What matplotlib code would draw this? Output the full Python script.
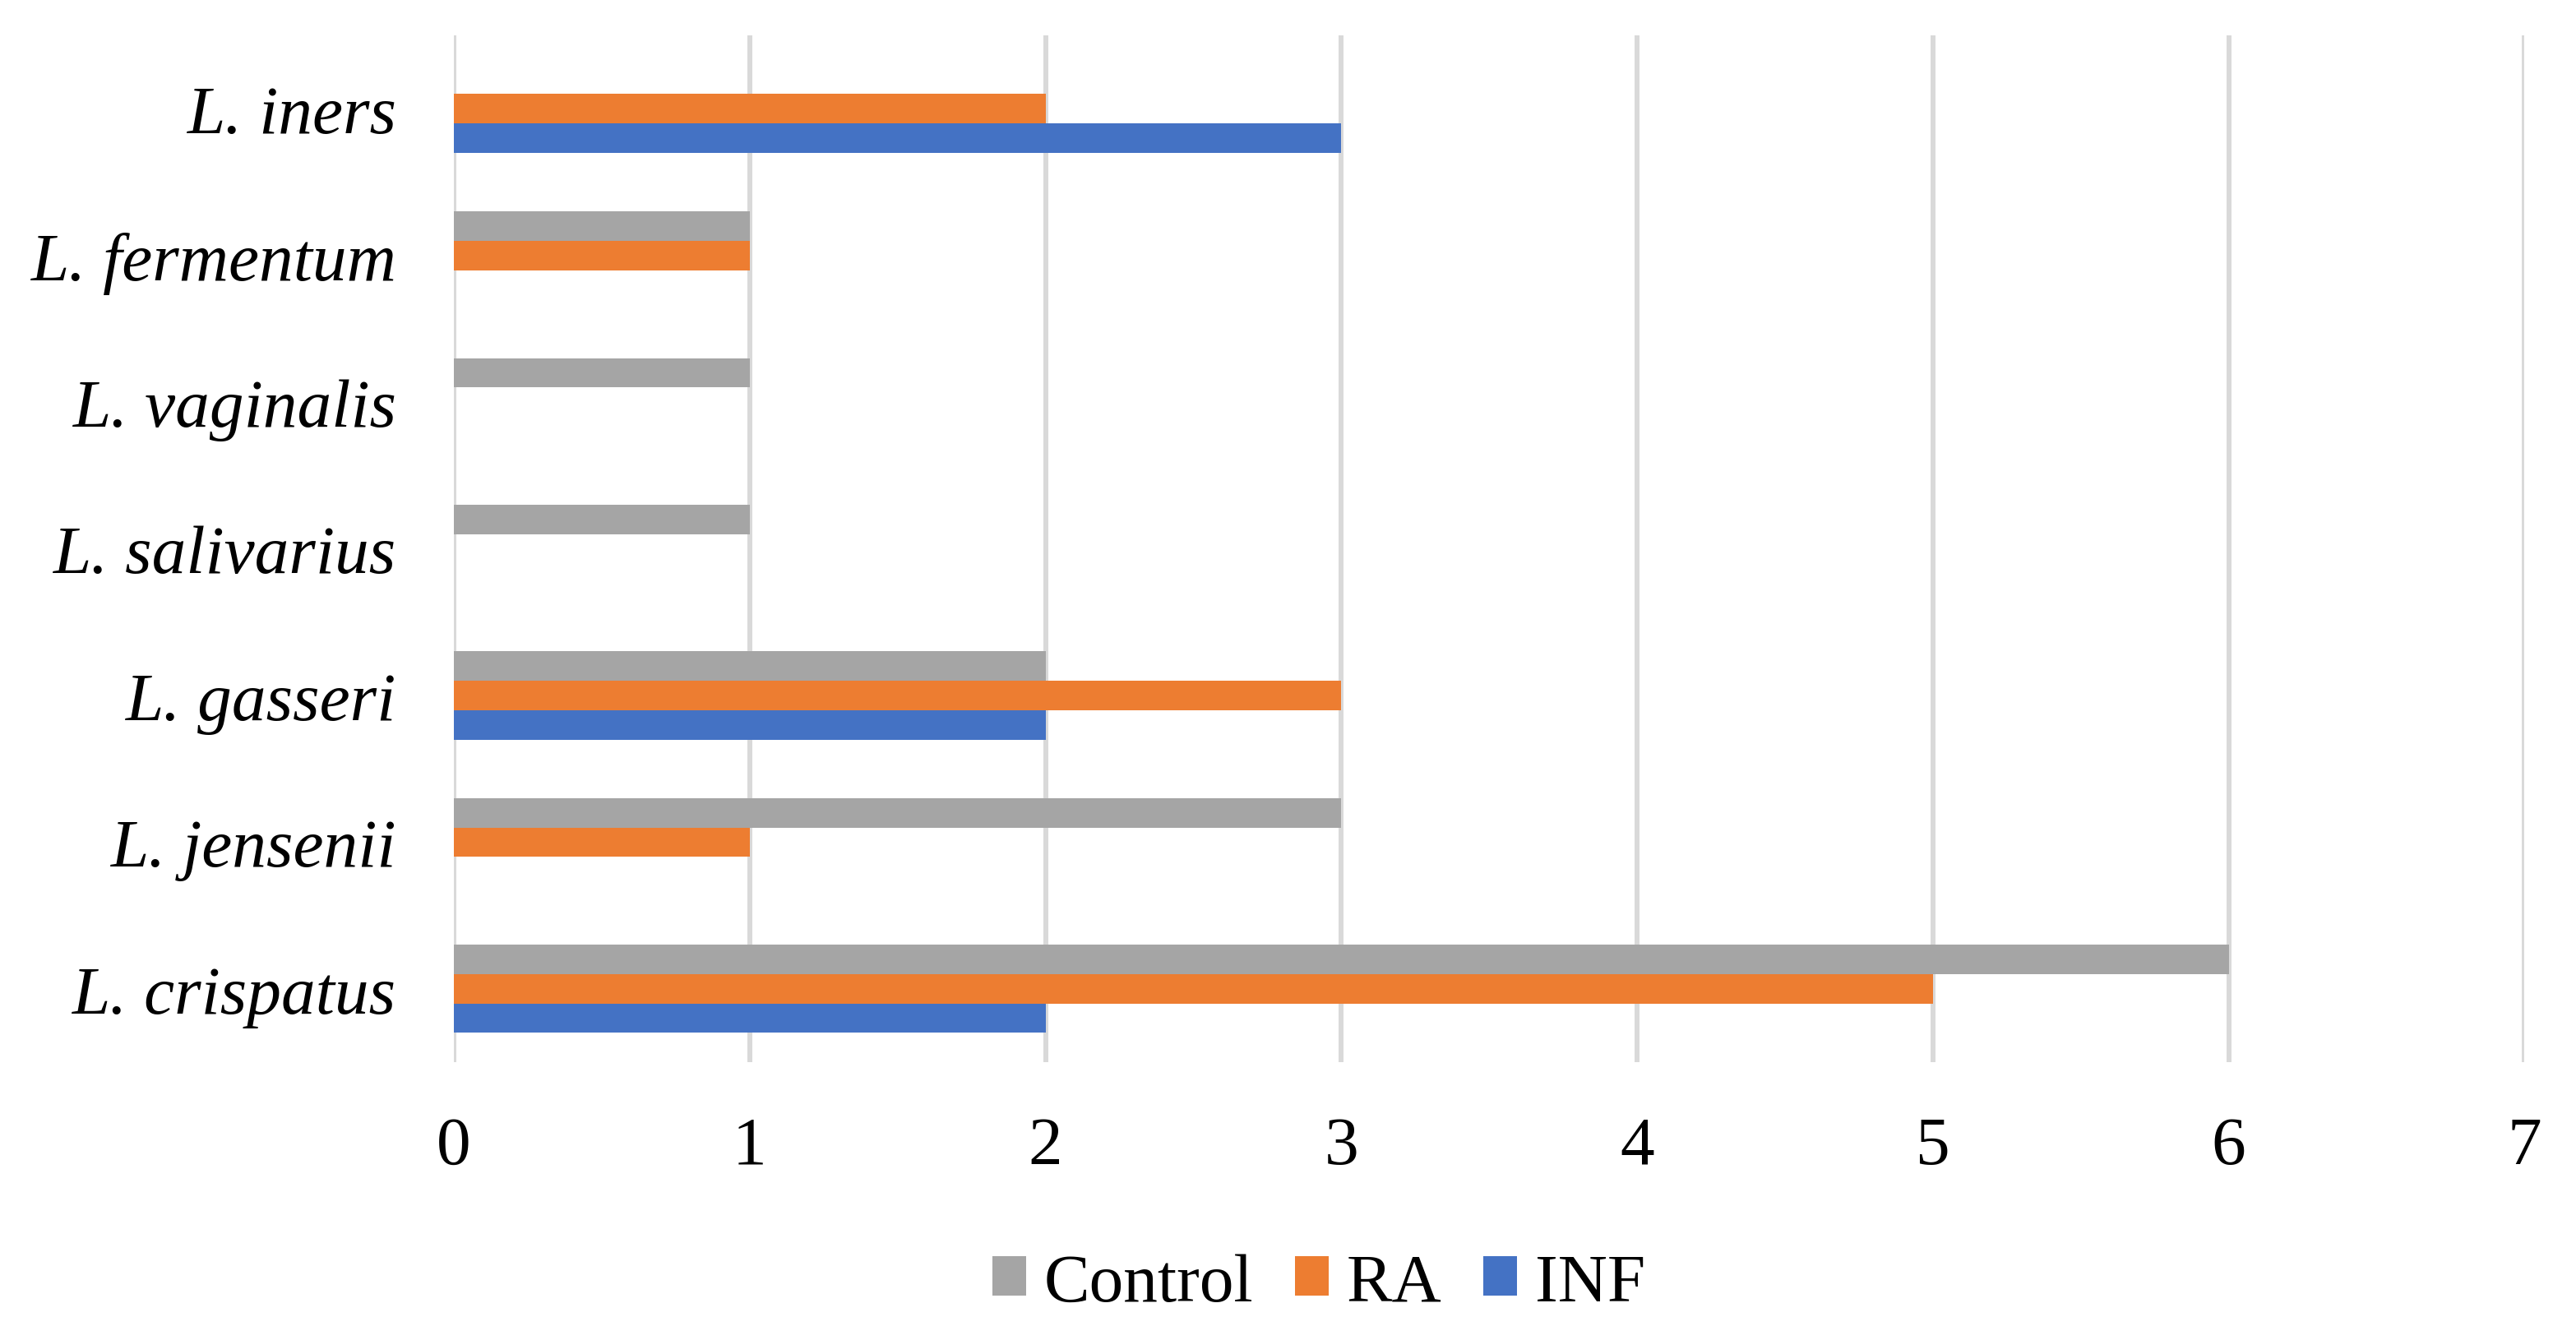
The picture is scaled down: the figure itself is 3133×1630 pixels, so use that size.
import matplotlib
matplotlib.use("Agg")
import matplotlib.pyplot as plt
import numpy as np

species = ["L. iners", "L. fermentum", "L. vaginalis", "L. salivarius",
           "L. gasseri", "L. jensenii", "L. crispatus"]
control = [0, 1, 1, 1, 2, 3, 6]
ra = [2, 1, 0, 0, 3, 1, 5]
inf = [3, 0, 0, 0, 2, 0, 2]
xticks = [0, 1, 2, 3, 4, 5, 6, 7]

plt.rcParams['font.family'] = ['Liberation Serif', 'DejaVu Serif']

fig = plt.figure(figsize=(31.33, 16.31), dpi=100)
ax = fig.add_axes([0.1762, 0.2072, 0.9800 - 0.1762, 0.973 - 0.2072])

y = np.arange(len(species))
h = 0.2
ax.barh(y - h, control, height=h, color='#A5A5A5', label='Control', zorder=3)
ax.barh(y, ra, height=h, color='#ED7D31', label='RA', zorder=3)
ax.barh(y + h, inf, height=h, color='#4472C4', label='INF', zorder=3)

ax.set_ylim(len(species) - 0.5, -0.5)
ax.set_xlim(0, 7)
ax.set_xticks(xticks)
ax.set_xticklabels([str(t) for t in xticks], fontsize=60)
ax.set_yticks(y)
ax.set_yticklabels(species, fontsize=60, style='italic')
ax.tick_params(axis='x', length=0, pad=47)
ax.tick_params(axis='y', length=0, pad=50)
ax.grid(axis='x', color='#D9D9D9', linewidth=4.3, zorder=0)
ax.set_axisbelow(True)
for s in ax.spines.values():
    s.set_visible(False)

fig.legend(loc='center', bbox_to_anchor=(0.512, 0.0417), ncol=3, frameon=False,
           fontsize=60, handlelength=0.5, handleheight=0.5,
           handletextpad=0.26, columnspacing=0.6)

fig.savefig('out.png', dpi=100)
